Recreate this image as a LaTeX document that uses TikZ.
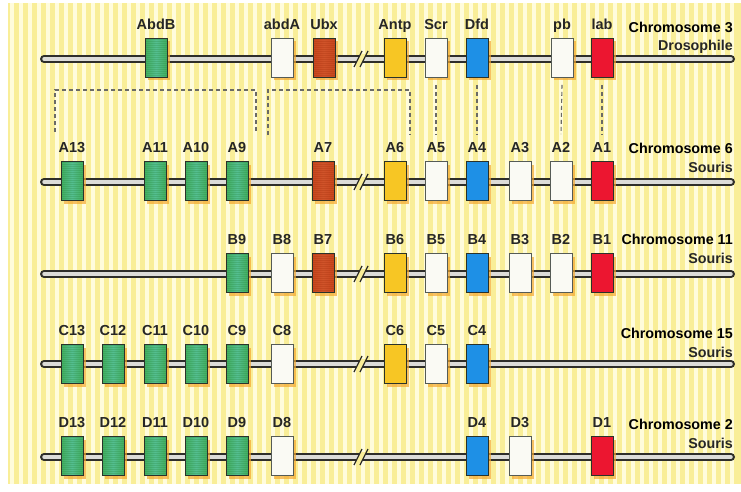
\documentclass[tikz,border=0pt]{standalone}
\usepackage{fontspec}
\setmainfont{Liberation Sans}
\usetikzlibrary{shadows,calc}
\definecolor{bgY}{HTML}{F9EE98}
\definecolor{bgP}{HTML}{FFFCDC}
\definecolor{chrdark}{HTML}{2E2E2A}
\definecolor{chrlight}{HTML}{DCDCD8}
\definecolor{boxline}{HTML}{2A322A}
\definecolor{shadowc}{HTML}{F4A830}
\definecolor{cgreen}{HTML}{40AE5C}
\definecolor{cgreenM}{HTML}{55BE92}
\definecolor{cgreenS}{HTML}{2E8E48}
\definecolor{cbrown}{HTML}{C8461E}
\definecolor{cbrownM}{HTML}{D0542A}
\definecolor{cbrownS}{HTML}{A8340F}
\definecolor{cyellow}{HTML}{F7C624}
\definecolor{cblue}{HTML}{1E90E6}
\definecolor{cred}{HTML}{EC1630}
\definecolor{cwhite}{HTML}{FAFAF4}
\definecolor{labc}{HTML}{262626}
\definecolor{dashc}{HTML}{6A6A66}
\newcommand\hoxgene[5]{\node[genebox,#4,label={[glbl]above:#5}] (#1) at (#2,#3) {};}
\newcommand\chrbreak[1]{%
  \fill[bgY] (355.5,#1+5) -- (360.5,#1-5) -- (366.5,#1-5) -- (361.5,#1+5) -- cycle;
  \draw[brkline] (354,#1+8) -- (362,#1-8);
  \draw[brkline] (360,#1+8) -- (368,#1-8);}
\begin{document}
\begin{tikzpicture}[x=1pt,y=-1pt,label distance=8pt,
  chrout/.style={line width=8pt, draw=chrdark, line cap=round},
  chrin/.style={line width=3.5pt, draw=chrlight, line cap=round},
  brkline/.style={draw=chrdark, line width=1.2pt},
  genebox/.style={draw=boxline, line width=0.8pt, minimum width=22pt, minimum height=39pt, inner sep=0pt,
    drop shadow={shadow xshift=3pt, shadow yshift=-3pt, fill=shadowc, opacity=0.7}},
  stripes/.style={path picture={\foreach \k in {1,3,...,39}
      \draw[#1, line width=0.5pt, opacity=0.3] ($(path picture bounding box.north west)+(0,\k)$) -- ($(path picture bounding box.north east)+(0,\k)$);}},
  gG/.style={left color=cgreen, right color=cgreen, middle color=cgreenM, stripes=cgreenS},
  gBr/.style={left color=cbrown, right color=cbrown, middle color=cbrownM, stripes=cbrownS},
  gY/.style={fill=cyellow},
  gBl/.style={fill=cblue},
  gR/.style={fill=cred},
  gW/.style={fill=cwhite, draw=boxline!80},
  glbl/.style={font=\fontsize{14.5}{16}\selectfont\bfseries, text=labc, inner sep=0pt, text height=10.5pt, text depth=0pt},
  chrname/.style={font=\fontsize{14.3}{16}\selectfont\bfseries, text=black, inner sep=0pt, text height=10.5pt, text depth=0pt, anchor=east},
  chrsub/.style={font=\fontsize{14.3}{16}\selectfont\bfseries, text=labc, inner sep=0pt, text height=10.5pt, text depth=0pt, anchor=east},
  dashl/.style={draw=dashc, line width=1.1pt, dash pattern=on 4pt off 3pt}
]
\useasboundingbox (0,0) rectangle (741,492);
% background
\fill[white] (0,0) rectangle (741,492);
\fill[bgY] (8,3) rectangle (741,484);
\foreach \x in {10,19,...,737} \fill[bgP] (\x,3) rectangle (\x+4,484);

% chromosome lines
\foreach \y in {59,182,274,364,457}{
  \draw[chrout] (44,\y) -- (731,\y);
  \draw[chrin] (44,\y) -- (731,\y);
  \chrbreak{\y}
}

% row 1: Drosophila
\hoxgene{abdb}{156}{58}{gG}{AbdB}
\hoxgene{abda}{282}{58}{gW}{abdA}
\hoxgene{ubx}{324}{58}{gBr}{Ubx}
\hoxgene{antp}{395}{58}{gY}{Antp}
\hoxgene{scr}{436}{58}{gW}{Scr}
\hoxgene{dfd}{477}{58}{gBl}{Dfd}
\hoxgene{pb}{562}{58}{gW}{pb}
\hoxgene{lab}{602}{58}{gR}{lab}
\node[chrname] (n3) at (733,27) {Chromosome 3};
\node[chrsub] (s3) at (733,45) {Drosophile};

% row 2
\hoxgene{a13}{72}{181}{gG}{A13}
\hoxgene{a11}{155}{181}{gG}{A11}
\hoxgene{a10}{196}{181}{gG}{A10}
\hoxgene{a9}{237}{181}{gG}{A9}
\hoxgene{a7}{323}{181}{gBr}{A7}
\hoxgene{a6}{395}{181}{gY}{A6}
\hoxgene{a5}{436}{181}{gW}{A5}
\hoxgene{a4}{477}{181}{gBl}{A4}
\hoxgene{a3}{520}{181}{gW}{A3}
\hoxgene{a2}{561}{181}{gW}{A2}
\hoxgene{a1}{602}{181}{gR}{A1}
\node[chrname] (n6) at (733,148) {Chromosome 6};
\node[chrsub] (s6) at (733,167) {Souris};

% row 3
\hoxgene{b9}{237}{273}{gG}{B9}
\hoxgene{b8}{282}{273}{gW}{B8}
\hoxgene{b7}{323}{273}{gBr}{B7}
\hoxgene{b6}{395}{273}{gY}{B6}
\hoxgene{b5}{436}{273}{gW}{B5}
\hoxgene{b4}{477}{273}{gBl}{B4}
\hoxgene{b3}{520}{273}{gW}{B3}
\hoxgene{b2}{561}{273}{gW}{B2}
\hoxgene{b1}{602}{273}{gR}{B1}
\node[chrname] (n11) at (733,239) {Chromosome 11};
\node[chrsub] (s11) at (733,258) {Souris};

% row 4
\hoxgene{c13}{72}{364}{gG}{C13}
\hoxgene{c12}{113}{364}{gG}{C12}
\hoxgene{c11}{155}{364}{gG}{C11}
\hoxgene{c10}{196}{364}{gG}{C10}
\hoxgene{c9}{237}{364}{gG}{C9}
\hoxgene{c8}{282}{364}{gW}{C8}
\hoxgene{c6}{395}{364}{gY}{C6}
\hoxgene{c5}{436}{364}{gW}{C5}
\hoxgene{c4}{477}{364}{gBl}{C4}
\node[chrname] (n15) at (733,333) {Chromosome 15};
\node[chrsub] (s15) at (733,352) {Souris};

% row 5
\hoxgene{d13}{72}{456}{gG}{D13}
\hoxgene{d12}{113}{456}{gG}{D12}
\hoxgene{d11}{155}{456}{gG}{D11}
\hoxgene{d10}{196}{456}{gG}{D10}
\hoxgene{d9}{237}{456}{gG}{D9}
\hoxgene{d8}{282}{456}{gW}{D8}
\hoxgene{d4}{477}{456}{gBl}{D4}
\hoxgene{d3}{520}{456}{gW}{D3}
\hoxgene{d1}{602}{456}{gR}{D1}
\node[chrname] (n2) at (733,424) {Chromosome 2};
\node[chrsub] (s2) at (733,443) {Souris};

% homology dashed links
\draw[dashl] (55,132) -- (55,90) -- (256,90) -- (256,132);
\draw[dashl] (268,135) -- (268,90) -- (410,90) -- (410,135);
\foreach \u/\l in {scr/a5, dfd/a4, pb/a2, lab/a1}
  \draw[dashl] ([yshift=-7pt]\u.south) -- ([yshift=27pt]\l.north);
\end{tikzpicture}
\end{document}
